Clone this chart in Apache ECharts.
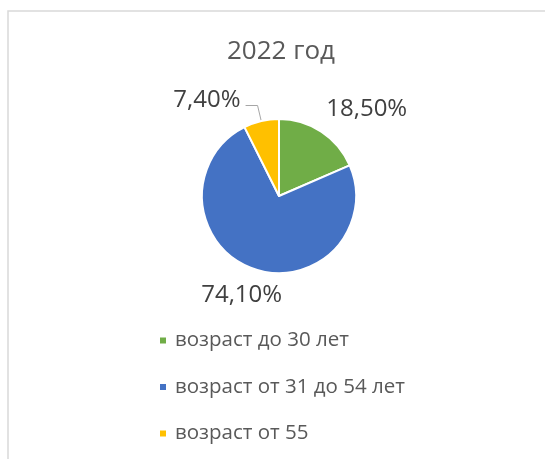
<!DOCTYPE html>
<html>
<head>
<meta charset="utf-8">
<script src="https://cdn.jsdelivr.net/npm/echarts@6/dist/echarts.min.js"></script>
<style>html,body{margin:0;padding:0;background:#fff}#c{width:545px;height:459px}</style>
</head>
<body>
<div id="c"></div>
<script>
var title = '2022 год';
var categories = ['возраст до 30 лет', 'возраст от 31 до 54 лет', 'возраст от 55'];
var values = [18.5, 74.1, 7.4];
var colors = ['#70AD47', '#4472C4', '#FFC000'];

var FONT = "'Open Sans', 'Liberation Sans', sans-serif";
var labelOffsets = [{dx: -11, dy: -6}, {dx: 44, dy: 0}, {dx: 0, dy: -5}];

var chart = echarts.init(document.getElementById('c'), null, {renderer: 'canvas'});
chart.setOption({
  backgroundColor: '#ffffff',
  animation: false,
  graphic: [{
    type: 'rect', shape: {x: 8, y: 11, width: 600, height: 500},
    style: {fill: 'none', stroke: '#d9d9d9', lineWidth: 1.5}, silent: true
  }],
  title: {
    text: title, left: 227, top: 39, padding: 0,
    textStyle: {fontFamily: FONT, fontSize: 26, fontWeight: 'normal', color: '#595959'}
  },
  legend: {
    orient: 'vertical', left: 158, top: 330, padding: 0, itemGap: 25.5,
    itemWidth: 8, itemHeight: 8, icon: 'rect',
    data: categories,
    textStyle: {fontFamily: FONT, fontSize: 20.5, color: '#595959', padding: [0, 0, 0, 3]}
  },
  series: [{
    type: 'pie',
    center: [279, 196],
    radius: 77,
    startAngle: 90,
    clockwise: true,
    avoidLabelOverlap: false,
    itemStyle: {borderColor: '#ffffff', borderWidth: 2},
    label: {
      show: true, position: 'outside',
      fontFamily: FONT, fontSize: 24, color: '#404040',
      formatter: function (p) { return p.value.toFixed(2).replace('.', ',') + '%'; }
    },
    labelLine: {show: false, length: 20, length2: 0, lineStyle: {color: '#a6a6a6', width: 1}},
    labelLayout: function (p) { return labelOffsets[p.dataIndex]; },
    data: categories.map(function (c, i) {
      var d = {name: c, value: values[i], itemStyle: {color: colors[i]}};
      if (i === 1) d.labelLine = {length: 28, length2: 0};
      if (i === 2) d.labelLine = {show: true, length: 16, length2: 12};
      return d;
    })
  }]
});
</script>
</body>
</html>
